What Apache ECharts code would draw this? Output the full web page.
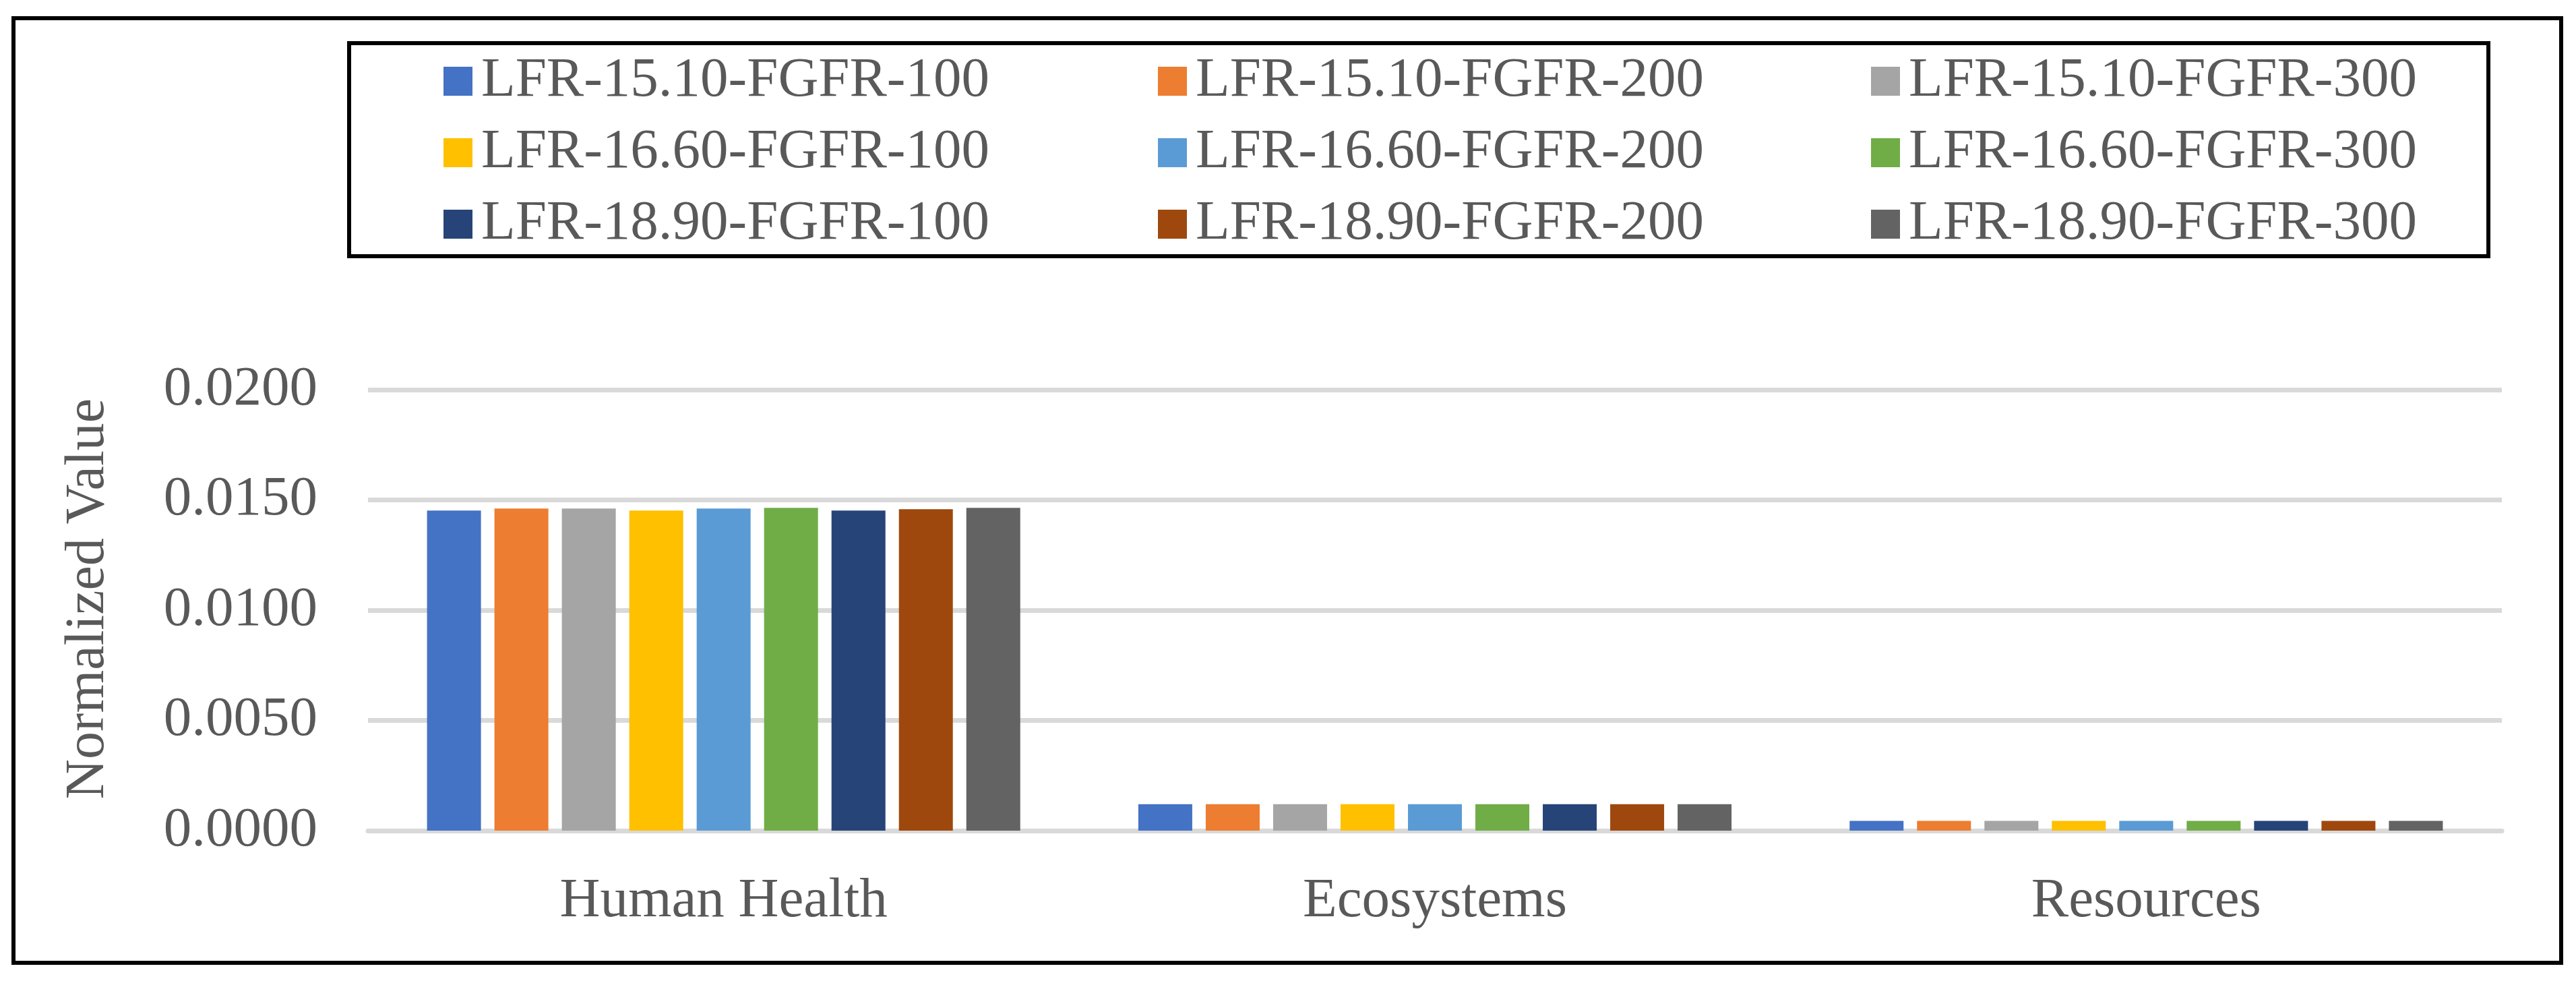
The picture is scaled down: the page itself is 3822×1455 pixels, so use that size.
<!DOCTYPE html>
<html>
<head>
<meta charset="utf-8">
<script src="https://cdn.jsdelivr.net/npm/echarts@6/dist/echarts.min.js"></script>
<style>
html,body{margin:0;padding:0;background:#fff;}
#c{width:3822px;height:1455px;}
</style>
</head>
<body>
<div id="c"></div>
<script>
const categories = ['Human Health', 'Ecosystems', 'Resources'];
const seriesNames = [
  'LFR-15.10-FGFR-100', 'LFR-15.10-FGFR-200', 'LFR-15.10-FGFR-300',
  'LFR-16.60-FGFR-100', 'LFR-16.60-FGFR-200', 'LFR-16.60-FGFR-300',
  'LFR-18.90-FGFR-100', 'LFR-18.90-FGFR-200', 'LFR-18.90-FGFR-300'
];
const humanHealth = [0.01452, 0.01461, 0.01461, 0.01452, 0.01461, 0.01464, 0.01452, 0.01458, 0.01464];
const ecosystems  = [0.00120, 0.00120, 0.00120, 0.00120, 0.00120, 0.00120, 0.00120, 0.00120, 0.00120];
const resources   = [0.00044, 0.00044, 0.00044, 0.00044, 0.00044, 0.00044, 0.00044, 0.00044, 0.00044];
const colors = ['#4472C4', '#ED7D31', '#A5A5A5', '#FFC000', '#5B9BD5', '#70AD47', '#264478', '#9E480E', '#636363'];
const yTicks = { min: 0, max: 0.02, interval: 0.005 };

const FONT = 'Liberation Serif';
const TXT = '#595959';

const chart = echarts.init(document.getElementById('c'), null, { renderer: 'canvas' });

const series = seriesNames.map((name, i) => ({
  name: name,
  type: 'bar',
  data: [humanHealth[i], ecosystems[i], resources[i]],
  itemStyle: { color: colors[i] },
  barGap: '25%',
  barCategoryGap: '16.6%'
}));

const legendCol = (idx, left) => ({
  orient: 'vertical',
  left: left,
  top: 74,
  itemWidth: 43,
  itemHeight: 43,
  itemGap: 23,
  icon: 'rect',
  data: [seriesNames[idx], seriesNames[idx + 3], seriesNames[idx + 6]],
  textStyle: { fontFamily: FONT, fontSize: 83, color: TXT, padding: [0, 0, 0, 8] }
});

chart.setOption({
  backgroundColor: '#fff',
  animation: false,
  color: colors,
  graphic: [
    { type: 'rect', shape: { x: 20, y: 27, width: 3780, height: 1401 },
      style: { fill: 'none', stroke: '#000', lineWidth: 6 }, z: 100 },
    { type: 'rect', shape: { x: 518, y: 64, width: 3174, height: 316 },
      style: { fill: 'none', stroke: '#000', lineWidth: 6 }, z: 100 }
  ],
  legend: [legendCol(0, 653), legendCol(1, 1713), legendCol(2, 2771)],
  grid: { left: 546, right: 110, top: 578, bottom: 223, containLabel: false },
  xAxis: {
    type: 'category',
    data: categories,
    axisLine: { show: true, lineStyle: { color: '#D9D9D9', width: 7 } },
    axisTick: { show: false },
    axisLabel: { fontFamily: FONT, fontSize: 83, color: TXT, margin: 64 }
  },
  yAxis: {
    type: 'value',
    min: yTicks.min,
    max: yTicks.max,
    interval: yTicks.interval,
    name: 'Normalized Value',
    nameLocation: 'middle',
    nameGap: 374,
    nameTextStyle: { fontFamily: FONT, fontSize: 82, color: TXT, padding: [0, 0, 0, 34] },
    axisLine: { show: false },
    axisTick: { show: false },
    splitLine: { show: true, lineStyle: { color: '#D9D9D9', width: 7 } },
    axisLabel: {
      fontFamily: FONT, fontSize: 83, color: TXT, margin: 75,
      formatter: v => v.toFixed(4)
    }
  },
  series: series
});
</script>
</body>
</html>
